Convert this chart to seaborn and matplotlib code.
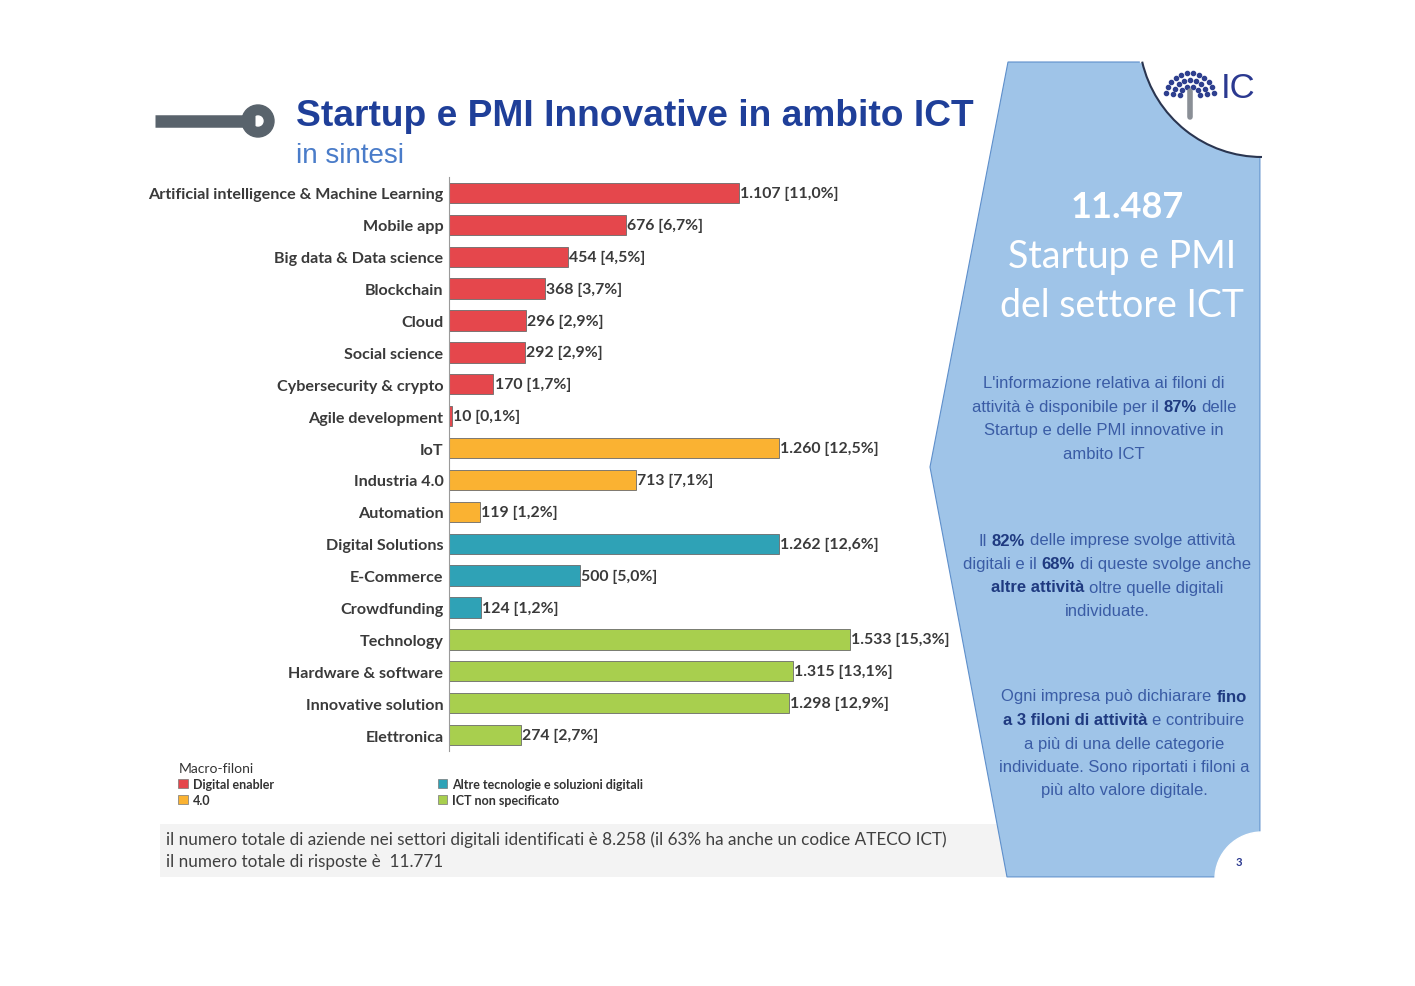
import pandas as pd
import numpy as np
import matplotlib
matplotlib.use("Agg")
import matplotlib.pyplot as plt
import seaborn as sns
from matplotlib.patches import Polygon, Rectangle, Circle, Arc, Patch

# Dati: filoni di attività (Startup e PMI innovative ICT)
categories = [
    'Artificial intelligence & Machine Learning', 'Mobile app', 'Big data & Data science',
    'Blockchain', 'Cloud', 'Social science', 'Cybersecurity & crypto', 'Agile development',
    'IoT', 'Industria 4.0', 'Automation',
    'Digital Solutions', 'E-Commerce', 'Crowdfunding',
    'Technology', 'Hardware & software', 'Innovative solution', 'Elettronica',
]
values = [1107, 676, 454, 368, 296, 292, 170, 10,
          1260, 713, 119,
          1262, 500, 124,
          1533, 1315, 1298, 274]
percents = ['11,0%', '6,7%', '4,5%', '3,7%', '2,9%', '2,9%', '1,7%', '0,1%',
            '12,5%', '7,1%', '1,2%',
            '12,6%', '5,0%', '1,2%',
            '15,3%', '13,1%', '12,9%', '2,7%']
groups = ['Digital enabler'] * 8 + ['4.0'] * 3 + \
         ['Altre tecnologie e soluzioni digitali'] * 3 + ['ICT non specificato'] * 4
group_names = ['Digital enabler', '4.0', 'Altre tecnologie e soluzioni digitali', 'ICT non specificato']
group_colors = ['#E5474C', '#FAB232', '#2FA2B6', '#A8CF4E']

df = pd.DataFrame({'category': categories, 'value': values, 'pct': percents, 'group': groups})
palette = dict(zip(group_names, group_colors))

W, H = 1415, 987
sns.set_style("white")
plt.rcParams['font.family'] = ['Lato', 'DejaVu Sans']

fig = plt.figure(figsize=(W / 100, H / 100), dpi=100)
fig.patch.set_facecolor('white')

# asse di sfondo in pixel (per forme e testi della slide)
bg = fig.add_axes([0, 0, 1, 1], zorder=0)
bg.set_xlim(0, W)
bg.set_ylim(H, 0)
bg.axis('off')

# --- intestazione
bg.plot([155, 255], [122, 122], color='#59636C', lw=9, solid_capstyle='butt')
bg.add_patch(Circle((258, 122), 16, color='#59636C'))
bg.add_patch(Circle((258, 122), 5, color='white'))
bg.text(296, 117, 'Startup e PMI Innovative in ambito ICT', fontsize=26.7, fontweight='bold',
        color='#1F3F99', va='center', ha='left', family=['Liberation Sans', 'DejaVu Sans'])
bg.text(296, 156, 'in sintesi', fontsize=20, color='#4A7CC9', va='center', ha='left',
        family=['Liberation Sans', 'DejaVu Sans'])

# --- riquadro note in basso
bg.add_patch(Rectangle((160, 825), 880, 53, facecolor='#F3F3F3', edgecolor='none', zorder=0.5))
bg.text(166, 840, 'il numero totale di aziende nei settori digitali identificati è 8.258 '
        '(il 63% ha anche un codice ATECO ICT)', fontsize=12.3, color='#404040', va='center', zorder=0.6)
bg.text(166, 862, 'il numero totale di risposte è  11.771', fontsize=12.3, color='#404040',
        va='center', zorder=0.6)

# --- pannello azzurro a destra
panel = Polygon([(1008, 63), (1260, 63), (1260, 878), (1007, 878), (930, 468)],
                closed=True, facecolor='#9FC4E8', edgecolor='#5E8FCB', lw=0.8, zorder=1.5)
bg.add_patch(panel)
bg.add_patch(Circle((1262, 35), 123, facecolor='white', edgecolor='none', zorder=2))
bg.add_patch(Arc((1262, 35), 246, 246, theta1=90, theta2=167, color='#2A3550', lw=1.5, zorder=3))
bg.add_patch(Rectangle((1140, 0), 140, 63, facecolor='white', zorder=2))
bg.add_patch(Rectangle((1261, 0), 160, 900, facecolor='white', zorder=2))
bg.add_patch(Circle((1262, 880), 47, facecolor='white', zorder=2))
bg.add_patch(Rectangle((1000, 879), 300, 40, facecolor='white', zorder=2))
bg.text(1239, 862, '3', fontsize=8, fontweight='bold', color='#2B3990', ha='center', va='center', zorder=4)

# logo (stilizzato)
for r, n in [(10, 6), (17, 9), (24, 12)]:
    ang = np.linspace(np.pi * 1.05, np.pi * 1.95, n)
    bg.scatter(1190 + r * np.cos(ang), 98 + r * np.sin(ang), s=9, color='#2E3F8F', zorder=4)
bg.plot([1190, 1190], [92, 118], color='#8A8F96', lw=4, zorder=4)
bg.text(1238, 88, 'IC', fontsize=25, color='#2B3990', ha='center', va='center', zorder=4,
        family=['Liberation Sans', 'DejaVu Sans'])

bg.text(1127, 207, '11.487', fontsize=26, fontweight='bold', color='white', ha='center', va='center', zorder=4)
bg.text(1122, 257, 'Startup e PMI', fontsize=27, color='white', ha='center', va='center', zorder=4)
bg.text(1122, 306, 'del settore ICT', fontsize=27, color='white', ha='center', va='center', zorder=4)

renderer = fig.canvas.get_renderer()
body_font = ['Liberation Sans', 'DejaVu Sans']


def rich_line(cx, y, segments, size=12):
    texts = []
    for s, bold in segments:
        t = bg.text(0, y, s, fontsize=size, ha='left', va='center', family=body_font,
                    fontweight='bold' if bold else 'normal',
                    color='#1F3A80' if bold else '#3A5CA5', zorder=4)
        texts.append(t)
    probe = bg.text(0, 0, 'a a', fontsize=size, family=body_font)
    probe2 = bg.text(0, 0, 'aa', fontsize=size, family=body_font)
    space = probe.get_window_extent(renderer).width - probe2.get_window_extent(renderer).width
    probe.remove()
    probe2.remove()
    widths = [t.get_window_extent(renderer).width for t in texts]
    total = sum(widths) + space * (len(texts) - 1)
    x = cx - total / 2
    for t, w in zip(texts, widths):
        t.set_x(x)
        x += w + space


para1 = [
    [("L'informazione relativa ai filoni di", False)],
    [("attività è disponibile per il", False), ("87%", True), ("delle", False)],
    [("Startup e delle PMI innovative in", False)],
    [("ambito ICT", False)],
]
para2 = [
    [("Il", False), ("82%", True), ("delle imprese svolge attività", False)],
    [("digitali e il", False), ("68%", True), ("di queste svolge anche", False)],
    [("altre attività", True), ("oltre quelle digitali", False)],
    [("individuate.", False)],
]
para3 = [
    [("Ogni impresa può dichiarare", False), ("fino", True)],
    [("a 3 filoni di attività", True), ("e contribuire", False)],
    [("a più di una delle categorie", False)],
    [("individuate. Sono riportati i filoni a", False)],
    [("più alto valore digitale.", False)],
]
for cx, y0, para in [(1104, 384, para1), (1107, 541, para2), (1124, 697, para3)]:
    for k, line in enumerate(para):
        rich_line(cx, y0 + k * 23.5, line)

# --- grafico a barre
px_per_unit = 401 / 1533
x0, x1 = 449, 449 + 1850 * px_per_unit
ytop, ybot = 178, 752
ax = fig.add_axes([x0 / W, 1 - ybot / H, (x1 - x0) / W, (ybot - ytop) / H], zorder=3)
ax.patch.set_alpha(0)

sns.barplot(data=df, x='value', y='category', hue='group', palette=palette, dodge=False,
            saturation=1, width=0.64, edgecolor='#6A6A6A', linewidth=0.6, legend=False, ax=ax)
ax.set_xlim(0, 1850)
ax.set_ylim(len(categories) - 0.5, -0.5)
for i, (v, p) in enumerate(zip(values, percents)):
    lab = f"{v:,}".replace(',', '.') + f" [{p}]"
    ax.text(v + 4, i, lab, fontsize=11.4, fontweight='bold', color='#3A3A3A', va='center', ha='left')

ax.set_xlabel('')
ax.set_ylabel('')
ax.set_xticks([])
ax.tick_params(axis='y', length=0, pad=4, labelsize=11.6, labelcolor='#3A3A3A')
for t in ax.get_yticklabels():
    t.set_fontweight('bold')
for s in ['top', 'right', 'bottom']:
    ax.spines[s].set_visible(False)
ax.spines['left'].set_color('#9A9A9A')
ax.spines['left'].set_linewidth(0.8)

# legenda
handles = [Patch(facecolor=c, edgecolor='#777777', lw=0.5, label=g) for g, c in zip(group_names, group_colors)]
leg = bg.legend(handles=handles, ncol=2, title='Macro-filoni', loc='upper left',
                bbox_to_anchor=(167 / W, 1 - 752 / H), bbox_transform=fig.transFigure,
                frameon=False, title_fontsize=10, handlelength=0.75, handleheight=0.75,
                handletextpad=0.4, columnspacing=13.1, labelspacing=0.3, alignment='left',
                prop={'weight': 'bold', 'size': 9})
leg.get_title().set_color('#333333')
for t in leg.get_texts():
    t.set_color('#333333')
leg.set_zorder(5)

fig.savefig('out.png', dpi=100, facecolor='white')
